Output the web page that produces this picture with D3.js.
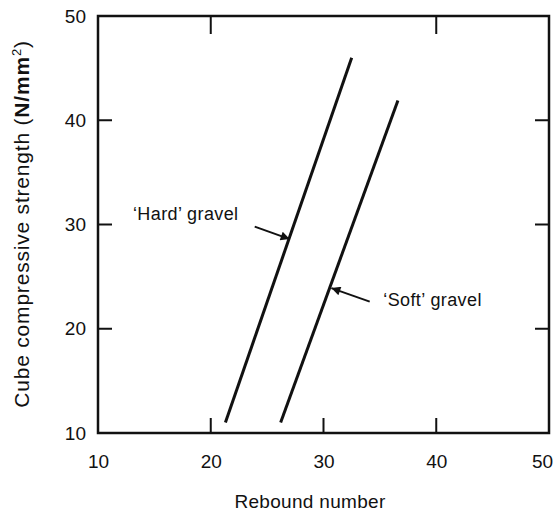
<!DOCTYPE html>
<html>
<head>
<meta charset="utf-8">
<script src="https://cdn.jsdelivr.net/npm/d3@7"></script>
<style>
  body { margin: 0; background: #fff; }
  text { font-family: "Liberation Sans", Arial, sans-serif; fill: #111; }
</style>
</head>
<body>
<svg id="chart" width="558" height="515"></svg>
<script>
// rebound number vs strength, two gravel types
var xTicks = [10, 20, 30, 40, 50];
var yTicks = [10, 20, 30, 40, 50];

var hardRebound  = [21.3, 32.5];
var hardStrength = [11, 46];
var softRebound  = [26.2, 36.6];
var softStrength = [11, 41.9];

// labels with arrows: text anchor point and arrow tip, in data units
var labels = [
  { text: "\u2018Hard\u2019 gravel", tx: 13.1, ty: 30.4, ax0: 23.9, ay0: 29.8, ax1: 27.0, ay1: 28.6 },
  { text: "\u2018Soft\u2019 gravel", tx: 35.3, ty: 22.2, ax0: 34.1, ay0: 22.6, ax1: 30.7, ay1: 23.9 }
];

var svg = d3.select("#chart");
var mLeft = 98, mRight = 549, mTop = 16, mBottom = 433;

var x = d3.scaleLinear().domain([10, 50]).range([mLeft, mRight]);
var y = d3.scaleLinear().domain([10, 50]).range([mBottom, mTop]);

svg.append("defs").append("marker")
    .attr("id", "head")
    .attr("viewBox", "0 0 10 10")
    .attr("refX", 10).attr("refY", 5)
    .attr("markerWidth", 6.5).attr("markerHeight", 4.5)
    .attr("markerUnits", "strokeWidth")
    .attr("orient", "auto")
  .append("path")
    .attr("d", "M0,0L10,5L0,10z")
    .attr("fill", "#111");

// axes: tick labels outside, inward ticks drawn separately
var xAxis = svg.append("g")
    .attr("transform", "translate(0," + mBottom + ")")
    .call(d3.axisBottom(x).tickValues(xTicks).tickSize(0).tickPadding(22));
var yAxis = svg.append("g")
    .attr("transform", "translate(" + mLeft + ",0)")
    .call(d3.axisLeft(y).tickValues(yTicks).tickSize(0).tickPadding(12));
[xAxis, yAxis].forEach(function(a) {
  a.select(".domain").remove();
  a.selectAll("text").style("font-size", "19px").attr("fill", "#111")
    .style("font-family", '"Liberation Sans", Arial, sans-serif');
});
// keep the last x label inside the window
xAxis.selectAll("text").filter(function(d) { return d === 50; }).attr("dx", -7);

var inner = [20, 30, 40];
var tick = svg.append("g").attr("stroke", "#111").attr("stroke-width", 2);
tick.selectAll(".tb").data(inner).enter().append("line")
    .attr("x1", function(d) { return x(d); }).attr("x2", function(d) { return x(d); })
    .attr("y1", mBottom).attr("y2", mBottom - 15);
tick.selectAll(".tt").data([20, 40]).enter().append("line")
    .attr("x1", function(d) { return x(d); }).attr("x2", function(d) { return x(d); })
    .attr("y1", mTop).attr("y2", mTop + 18);
tick.selectAll(".tl").data(inner).enter().append("line")
    .attr("x1", mLeft).attr("x2", mLeft + 14)
    .attr("y1", function(d) { return y(d); }).attr("y2", function(d) { return y(d); });
tick.selectAll(".tr").data(inner).enter().append("line")
    .attr("x1", mRight).attr("x2", mRight - 14)
    .attr("y1", function(d) { return y(d); }).attr("y2", function(d) { return y(d); });

svg.append("rect")
    .attr("x", mLeft).attr("y", mTop)
    .attr("width", mRight - mLeft).attr("height", mBottom - mTop)
    .attr("fill", "none").attr("stroke", "#111").attr("stroke-width", 2.5);

// the two lines
var line = d3.line()
    .x(function(d) { return x(d[0]); })
    .y(function(d) { return y(d[1]); });
[[hardRebound, hardStrength], [softRebound, softStrength]].forEach(function(s) {
  svg.append("path")
      .datum(d3.zip(s[0], s[1]))
      .attr("d", line)
      .attr("fill", "none").attr("stroke", "#111").attr("stroke-width", 3);
});

// annotations
labels.forEach(function(l) {
  svg.append("text")
      .attr("x", x(l.tx)).attr("y", y(l.ty))
      .style("font-size", "18px")
      .style("letter-spacing", "0.4px")
      .text(l.text);
  svg.append("line")
      .attr("x1", x(l.ax0)).attr("y1", y(l.ay0))
      .attr("x2", x(l.ax1)).attr("y2", y(l.ay1))
      .attr("stroke", "#111").attr("stroke-width", 2)
      .attr("marker-end", "url(#head)");
});

// axis titles
svg.append("text")
    .attr("x", 310).attr("y", 508)
    .attr("text-anchor", "middle")
    .style("font-size", "19px")
    .style("letter-spacing", "0.3px")
    .text("Rebound number");

var yt = svg.append("text")
    .attr("transform", "translate(29," + 224 + ") rotate(-90)")
    .attr("text-anchor", "middle")
    .style("font-size", "21px")
    .style("letter-spacing", "0.8px");
yt.append("tspan").text("Cube compressive strength (");
yt.append("tspan").style("font-weight", "bold").text("N/mm");
yt.append("tspan").attr("dy", -8).style("font-size", "13px").text("2");
yt.append("tspan").attr("dy", 8).text(")");
</script>
</body>
</html>
